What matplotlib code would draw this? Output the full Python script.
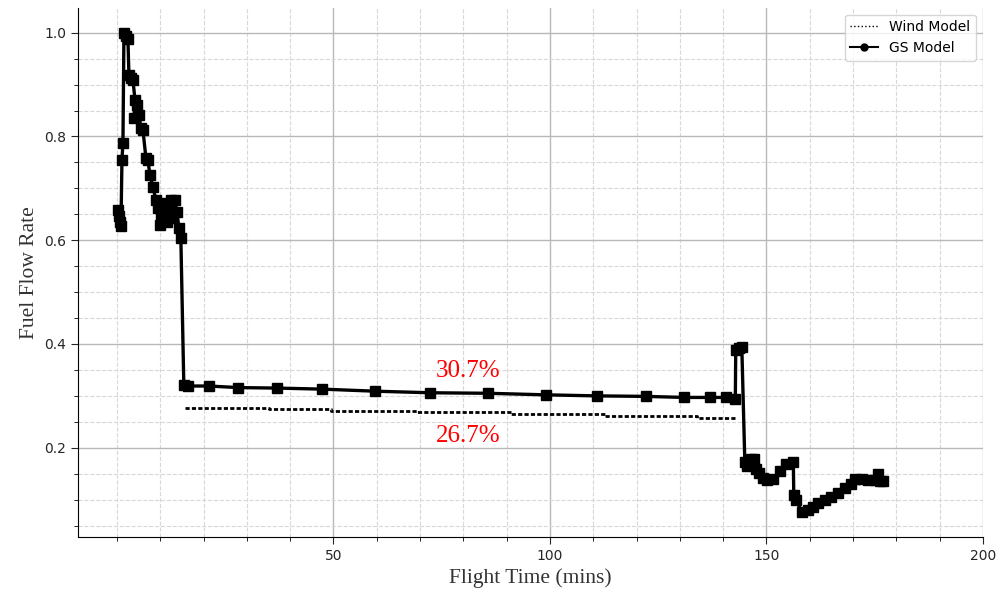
import matplotlib
matplotlib.use('Agg')
import matplotlib.pyplot as plt
from matplotlib.lines import Line2D
from matplotlib.ticker import MultipleLocator

# GS model fuel flow (time in minutes, normalised flow)
gs_time = [0.23, 0.46, 0.69, 0.92, 1.15, 1.38, 1.61, 2.07, 2.53, 2.76, 3.23, 3.69,
           4.15, 3.92, 4.61, 5.07, 5.53, 5.99, 6.68, 7.14, 7.60, 8.29, 8.99, 9.45,
           9.91, 10.14, 10.60, 11.06, 11.52, 11.98, 12.44, 12.90, 13.36, 13.82,
           14.29, 14.75, 15.44, 16.5, 21.2, 28.0, 37.0, 47.4, 59.7, 72.4, 85.7,
           99.0, 110.8, 122.1, 131.0, 136.9, 140.7, 142.8, 142.9, 143.6, 144.3,
           145.0, 145.6, 146.5, 147.0, 147.5, 148.2, 149.2, 150.2, 151.6, 153.2,
           154.6, 156.2, 156.3, 156.9, 158.1, 159.7, 160.8, 162.0, 163.5, 165.0,
           166.5, 168.2, 169.5, 170.5, 172.0, 173.5, 175.0, 175.8, 176.2, 177.0]
gs_flow = [0.659, 0.647, 0.636, 0.628, 0.755, 0.788, 1.0, 0.994, 0.987, 0.919, 0.913, 0.909,
           0.871, 0.836, 0.861, 0.842, 0.817, 0.813, 0.759, 0.755, 0.726, 0.703, 0.678, 0.663,
           0.630, 0.649, 0.672, 0.655, 0.636, 0.659, 0.678, 0.643, 0.678, 0.655,
           0.624, 0.605, 0.320, 0.319, 0.319, 0.316, 0.315, 0.313, 0.309, 0.306, 0.305,
           0.302, 0.300, 0.299, 0.297, 0.297, 0.297, 0.294, 0.388, 0.392, 0.394,
           0.172, 0.165, 0.178, 0.178, 0.160, 0.151, 0.142, 0.137, 0.140, 0.155,
           0.168, 0.172, 0.109, 0.100, 0.076, 0.080, 0.086, 0.093, 0.099, 0.105,
           0.113, 0.122, 0.130, 0.140, 0.139, 0.138, 0.138, 0.150, 0.136, 0.135]

# wind model cruise segment
wind_time = [15.6, 35.0, 49.4, 69.2, 91.0, 112.6, 134.0, 142.7]
wind_flow = [0.277, 0.274, 0.271, 0.268, 0.265, 0.262, 0.258, 0.258]

fig = plt.figure(figsize=(10, 5.98), dpi=100)
ax = fig.add_subplot(111)
fig.subplots_adjust(left=0.078, right=0.983, top=0.987, bottom=0.102)

ax.plot(wind_time, wind_flow, color='black', linestyle=(0, (1.5, 0.8)), linewidth=2,
        drawstyle='steps-post')
ax.plot(gs_time, gs_flow, color='black', linewidth=2.4, marker='s', markersize=6.5)

ax.text(81, 0.348, '30.7%', color='red', fontsize=18, family='Liberation Serif',
        ha='center', va='center')
ax.text(81, 0.223, '26.7%', color='red', fontsize=18, family='Liberation Serif',
        ha='center', va='center')

ax.set_xlim(-9, 200)
ax.set_ylim(0.028, 1.048)
ax.set_xticks([50, 100, 150, 200])
ax.xaxis.set_minor_locator(MultipleLocator(10))
ax.yaxis.set_major_locator(MultipleLocator(0.2))
ax.yaxis.set_minor_locator(MultipleLocator(0.05))
ax.tick_params(labelsize=10, colors='#262626')
ax.tick_params(which='major', length=5)
ax.tick_params(which='minor', length=3)

ax.grid(which='major', color='#b8b8b8', linestyle='-', linewidth=1)
ax.grid(which='minor', color='#d8d8d8', linestyle='--', linewidth=0.8)
ax.set_axisbelow(True)

ax.spines['top'].set_visible(False)
ax.spines['right'].set_visible(False)

ax.set_xlabel('Flight Time (mins)', fontsize=15.5, family='Liberation Serif', color='#333333')
ax.set_ylabel('Fuel Flow Rate', fontsize=15.5, family='Liberation Serif', color='#333333')

handles = [Line2D([], [], color='black', linestyle=':', linewidth=1),
           Line2D([], [], color='black', linewidth=1.5, marker='o', markersize=5)]
ax.legend(handles, ['Wind Model', 'GS Model'], loc='upper right', fontsize=10)

plt.savefig('out.png')
